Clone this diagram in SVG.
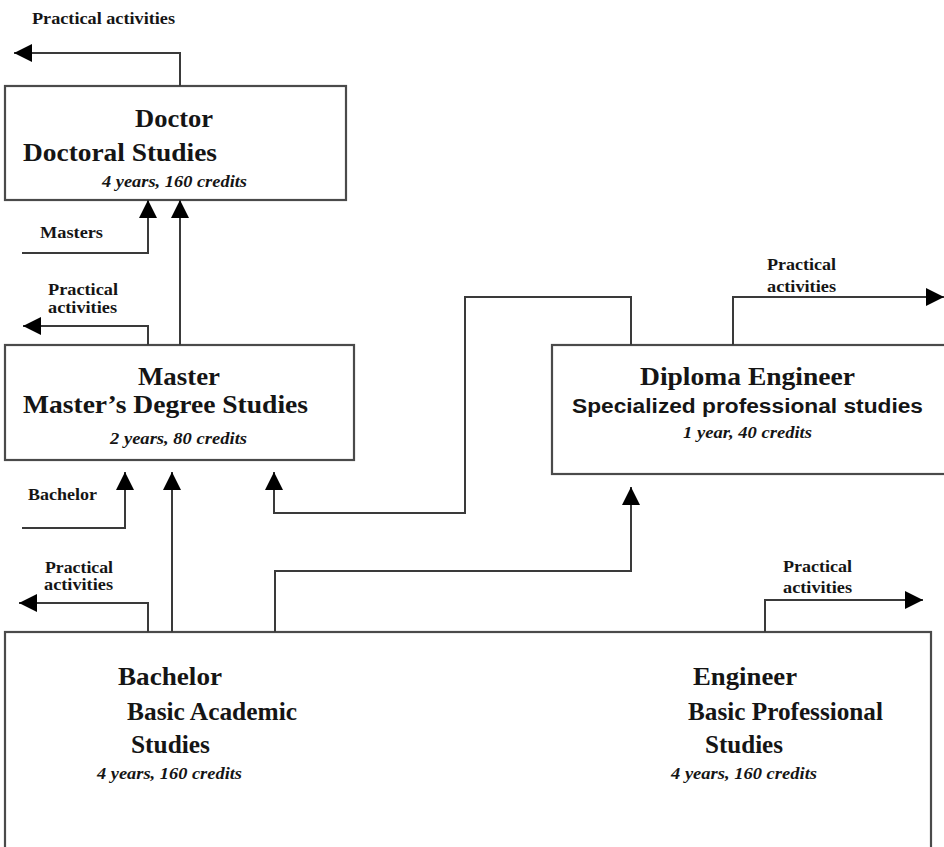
<svg xmlns="http://www.w3.org/2000/svg" width="944" height="847" viewBox="0 0 944 847">
<defs>
<style>
.box{fill:#fff;stroke:#4a4a4a;stroke-width:2.2}
.c{fill:none;stroke:#3a3a3a;stroke-width:2}
.t{font-family:"Liberation Serif","Times New Roman",serif;font-weight:bold;fill:#151515}
.ti{font-size:26px}
.it{font-size:17px;font-style:italic}
.lb{font-size:16px}
.sa{font-family:"Liberation Sans",Arial,sans-serif;font-weight:bold;font-size:20px;fill:#151515}
</style>
<marker id="ah" markerUnits="userSpaceOnUse" markerWidth="18" markerHeight="18" refX="18" refY="9" orient="auto" viewBox="0 0 18 18">
<path d="M0,0 L18,9 L0,18 Z" fill="#000"/>
</marker>
</defs>
<rect width="944" height="847" fill="#fff"/>

<g id="doctor">
<rect class="box" x="5" y="86" width="341" height="114"/>
<text class="t ti" x="135" y="127" textLength="78" lengthAdjust="spacingAndGlyphs">Doctor</text>
<text class="t ti" x="23" y="161" textLength="194" lengthAdjust="spacingAndGlyphs">Doctoral Studies</text>
<text class="t it" x="102" y="187" textLength="145" lengthAdjust="spacingAndGlyphs">4 years, 160 credits</text>
</g>

<g id="master">
<rect class="box" x="5" y="345" width="349" height="115"/>
<text class="t ti" x="138" y="385" textLength="82" lengthAdjust="spacingAndGlyphs">Master</text>
<text class="t ti" x="23" y="413" textLength="285" lengthAdjust="spacingAndGlyphs">Master’s Degree Studies</text>
<text class="t it" x="110" y="444" textLength="137" lengthAdjust="spacingAndGlyphs">2 years, 80 credits</text>
</g>

<g id="diploma">
<rect class="box" x="552" y="345" width="396" height="129"/>
<text class="t ti" x="640" y="385" textLength="215" lengthAdjust="spacingAndGlyphs">Diploma Engineer</text>
<text class="sa" x="572" y="413" textLength="351" lengthAdjust="spacingAndGlyphs">Specialized professional studies</text>
<text class="t it" x="683" y="438" textLength="129" lengthAdjust="spacingAndGlyphs">1 year, 40 credits</text>
</g>

<g id="basic">
<rect class="box" x="5" y="632" width="926" height="230"/>
<text class="t ti" x="118" y="685" textLength="104" lengthAdjust="spacingAndGlyphs">Bachelor</text>
<text class="t ti" x="127" y="720" textLength="170" lengthAdjust="spacingAndGlyphs">Basic Academic</text>
<text class="t ti" x="131" y="753" textLength="79" lengthAdjust="spacingAndGlyphs">Studies</text>
<text class="t it" x="97" y="779" textLength="145" lengthAdjust="spacingAndGlyphs">4 years, 160 credits</text>
<text class="t ti" x="693" y="685" textLength="104" lengthAdjust="spacingAndGlyphs">Engineer</text>
<text class="t ti" x="688" y="720" textLength="195" lengthAdjust="spacingAndGlyphs">Basic Professional</text>
<text class="t ti" x="705" y="753" textLength="78" lengthAdjust="spacingAndGlyphs">Studies</text>
<text class="t it" x="671" y="779" textLength="146" lengthAdjust="spacingAndGlyphs">4 years, 160 credits</text>
</g>

<g id="connectors">
<path class="c" d="M180,86 V53 H14" marker-end="url(#ah)"/>
<path class="c" d="M22,253 H148 V200" marker-end="url(#ah)"/>
<path class="c" d="M180,345 V200" marker-end="url(#ah)"/>
<path class="c" d="M148,345 V326 H23" marker-end="url(#ah)"/>
<path class="c" d="M22,528 H125 V472" marker-end="url(#ah)"/>
<path class="c" d="M172,632 V472" marker-end="url(#ah)"/>
<path class="c" d="M631,345 V297 H465 V513 H274 V472" marker-end="url(#ah)"/>
<path class="c" d="M148,632 V603 H19" marker-end="url(#ah)"/>
<path class="c" d="M275,632 V571 H631 V487" marker-end="url(#ah)"/>
<path class="c" d="M733,345 V297 H944" marker-end="url(#ah)"/>
<path class="c" d="M765,632 V600 H923" marker-end="url(#ah)"/>
</g>

<g id="labels">
<text class="t lb" x="32" y="24" textLength="143" lengthAdjust="spacingAndGlyphs">Practical activities</text>
<text class="t lb" x="40" y="238" textLength="63" lengthAdjust="spacingAndGlyphs">Masters</text>
<text class="t lb" x="48" y="295" textLength="70" lengthAdjust="spacingAndGlyphs">Practical</text>
<text class="t lb" x="48" y="313" textLength="69" lengthAdjust="spacingAndGlyphs">activities</text>
<text class="t lb" x="28" y="500" textLength="69" lengthAdjust="spacingAndGlyphs">Bachelor</text>
<text class="t lb" x="45" y="573" textLength="68" lengthAdjust="spacingAndGlyphs">Practical</text>
<text class="t lb" x="44" y="590" textLength="69" lengthAdjust="spacingAndGlyphs">activities</text>
<text class="t lb" x="767" y="270" textLength="69" lengthAdjust="spacingAndGlyphs">Practical</text>
<text class="t lb" x="767" y="292" textLength="69" lengthAdjust="spacingAndGlyphs">activities</text>
<text class="t lb" x="783" y="572" textLength="69" lengthAdjust="spacingAndGlyphs">Practical</text>
<text class="t lb" x="783" y="593" textLength="69" lengthAdjust="spacingAndGlyphs">activities</text>
</g>
</svg>
